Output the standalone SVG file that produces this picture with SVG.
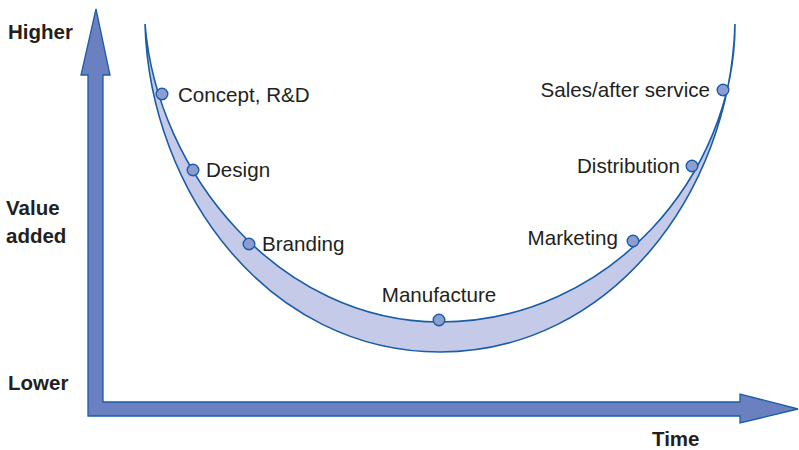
<svg xmlns="http://www.w3.org/2000/svg" width="799" height="450" viewBox="0 0 799 450">
<style>
.lbl{font-family:"Liberation Sans",Arial,sans-serif;font-size:20.6px;fill:#231f20}
.ax{font-family:"Liberation Sans",Arial,sans-serif;font-size:20.5px;font-weight:bold;fill:#231f20}
.dot{fill:#8c9dd2;stroke:#1a5ca8;stroke-width:1.4}
</style>
<rect width="799" height="450" fill="#ffffff"/>
<g id="axes">
<path d="M88,416 L88,75 L81,75 L96,9 L110,75 L103,75 L103,402 L740,402 L740,394 L798,409 L740,423 L740,416 Z" fill="#6b80c0" stroke="#1a5ca8" stroke-width="1.3" stroke-linejoin="miter"/>
</g>
<g id="curve">
<path d="M145,24 C150,194 270,352 440,352 C610,352 730,194 735,24 C735,174 610,322 440,322 C280,322 157,174 145,24 Z" fill="#c4cae7" stroke="#1a5ca8" stroke-width="1.6"/>
</g>
<g id="node-concept"><circle class="dot" cx="162" cy="94" r="5.8"/><text class="lbl" x="178" y="101.5">Concept, R&amp;D</text></g>
<g id="node-design"><circle class="dot" cx="193" cy="170" r="5.8"/><text class="lbl" x="206" y="177">Design</text></g>
<g id="node-branding"><circle class="dot" cx="249" cy="244" r="5.8"/><text class="lbl" x="262" y="251">Branding</text></g>
<g id="node-manufacture"><circle class="dot" cx="439" cy="320" r="5.8"/><text class="lbl" x="439" y="302" text-anchor="middle">Manufacture</text></g>
<g id="node-marketing"><circle class="dot" cx="633" cy="241" r="5.8"/><text class="lbl" x="618" y="245" text-anchor="end">Marketing</text></g>
<g id="node-distribution"><circle class="dot" cx="692" cy="166" r="5.8"/><text class="lbl" x="680" y="173" text-anchor="end">Distribution</text></g>
<g id="node-sales"><circle class="dot" cx="723" cy="90" r="5.8"/><text class="lbl" x="710" y="97" text-anchor="end">Sales/after service</text></g>
<g id="axis-labels">
<text class="ax" x="8" y="38.5">Higher</text>
<text class="ax" x="6" y="215">Value</text>
<text class="ax" x="6" y="243">added</text>
<text class="ax" x="8" y="390">Lower</text>
<text class="ax" x="652" y="446">Time</text>
</g>
</svg>
